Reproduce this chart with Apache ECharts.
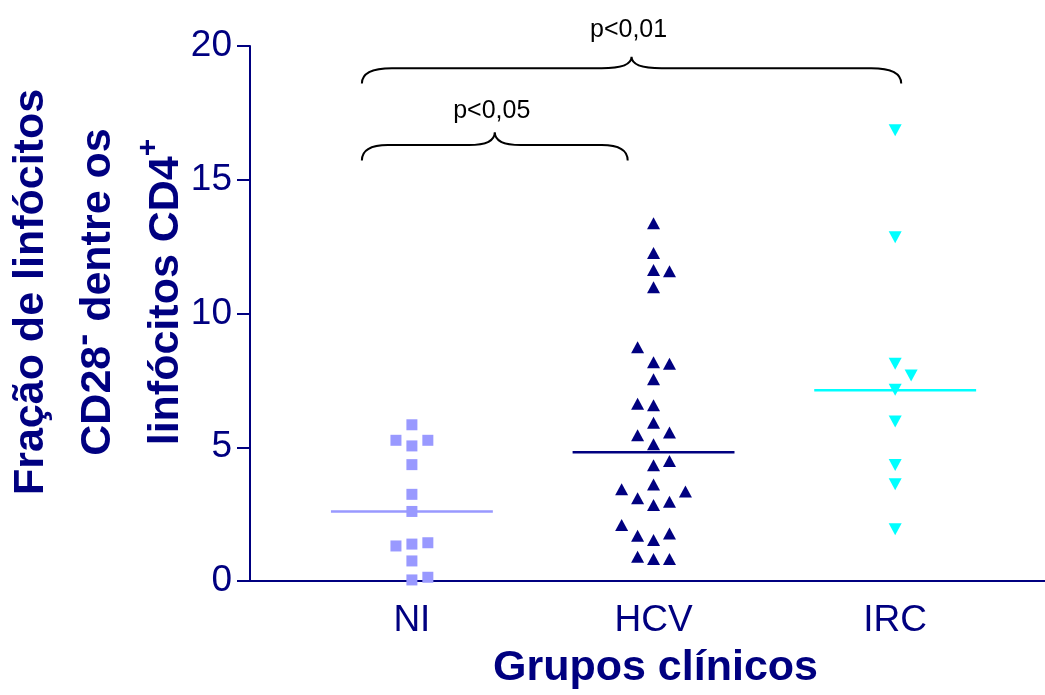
<!DOCTYPE html>
<html>
<head>
<meta charset="utf-8">
<script src="https://cdn.jsdelivr.net/npm/echarts@6/dist/echarts.min.js"></script>
<style>
html,body{margin:0;padding:0;background:#fff;}
#chart{width:1045px;height:695px;}
</style>
</head>
<body>
<div id="chart"></div>
<script>
// ---- data ----
const categories = ['NI', 'HCV', 'IRC'];
const yTicks = [0, 5, 10, 15, 20];

const niValues  = [5.84, 5.26, 5.26, 5.05, 4.35, 3.24, 2.60, 1.31, 1.38, 1.43, 0.75, 0.04, 0.14];
const niColumn  = [0, -1, 1, 0, 0, 0, 0, -1, 0, 1, 0, 0, 1];

const hcvValues = [13.37, 12.26, 11.63, 11.58, 10.98, 8.74, 8.18, 8.12, 7.54, 6.63, 6.57, 5.92, 5.45, 5.55, 5.11,
                   4.33, 4.49, 3.61, 3.43, 3.09, 3.35, 2.84, 2.96, 2.09, 1.69, 1.53, 1.78, 0.91, 0.82, 0.82];
const hcvColumn = [0, 0, 0, 1, 0, -1, 0, 1, 0, -1, 0, 0, -1, 1, 0,
                   0, 1, 0, -2, -1, 2, 0, 1, -2, -1, 0, 1, -1, 0, 1];

const ircValues = [16.85, 12.85, 8.12, 7.68, 7.15, 5.96, 4.34, 3.62, 1.93];
const ircColumn = [0, 0, 0, 1, 0, 0, 0, 0, 0];

const groupMeans = [2.60, 4.81, 7.13];

const pLabels = ['p<0,01', 'p<0,05'];
const pPairs  = [[1, 3], [1, 2]];

// ---- layout / style ----
const NAVY = '#000080';
const FONT = '"Liberation Sans", Arial, sans-serif';
const colors = ['#9999FF', '#000080', '#00FFFF'];
const COL_STEP = 0.066;
const MEAN_HALF = 0.335;
const bracketLayout = [
  {from: 0.793, to: 3.025, tip: 18.6, bar: 19.17, peak: 19.6, text: 20.6, r: 30},
  {from: 0.793, to: 1.893, tip: 15.72, bar: 16.3, peak: 16.78, text: 17.55, r: 26}
];

function pts(vals, cols, c) {
  return vals.map((v, i) => [c + cols[i] * COL_STEP, v]);
}
function meanLine(c, m) {
  return [[c - MEAN_HALF, m], [c + MEAN_HALF, m]];
}

const chart = echarts.init(document.getElementById('chart'), null, {renderer: 'canvas'});

const series = [];
categories.forEach((cat, i) => {
  series.push({
    type: 'line', name: cat + ' média', data: meanLine(i + 1, groupMeans[i]),
    symbol: 'none', lineStyle: {color: colors[i], width: 2.5}, z: 2, silent: true
  });
});
series.push({
  type: 'scatter', name: 'NI', data: pts(niValues, niColumn, 1),
  symbol: 'rect', symbolSize: 11, itemStyle: {color: colors[0], opacity: 1}, z: 3
});
series.push({
  type: 'scatter', name: 'HCV', data: pts(hcvValues, hcvColumn, 2),
  symbol: 'triangle', symbolSize: [13, 12], itemStyle: {color: colors[1], opacity: 1}, z: 3
});
series.push({
  type: 'scatter', name: 'IRC', data: pts(ircValues, ircColumn, 3),
  symbol: 'triangle', symbolRotate: 180, symbolSize: [13, 12], itemStyle: {color: colors[2], opacity: 1}, z: 3
});
series.push({
  type: 'custom', name: 'brackets', clip: false, z: 5, silent: true,
  data: pPairs.map((p, i) => [p[0], bracketLayout[i].bar]),
  renderItem: function (params, api) {
    const i = params.dataIndex;
    const b = bracketLayout[i];
    const pL = api.coord([b.from, b.tip]);
    const pR = api.coord([b.to, b.tip]);
    const yH = api.coord([1, b.bar])[1];
    const yP = api.coord([1, b.peak])[1];
    const yT = api.coord([1, b.text])[1];
    const xm = (pL[0] + pR[0]) / 2;
    const r = b.r;
    const d = 'M' + pL[0] + ',' + pL[1] +
      ' Q' + pL[0] + ',' + yH + ' ' + (pL[0] + r) + ',' + yH +
      ' L' + (xm - r) + ',' + yH +
      ' Q' + xm + ',' + yH + ' ' + xm + ',' + yP +
      ' Q' + xm + ',' + yH + ' ' + (xm + r) + ',' + yH +
      ' L' + (pR[0] - r) + ',' + yH +
      ' Q' + pR[0] + ',' + yH + ' ' + pR[0] + ',' + pR[1];
    return {
      type: 'group',
      children: [
        {type: 'path', shape: {pathData: d}, style: {fill: null, stroke: '#000', lineWidth: 2}},
        {type: 'text', style: {text: pLabels[i], x: xm - 3, y: yT, align: 'center', verticalAlign: 'middle',
          fill: '#000', font: '25px ' + FONT}}
      ]
    };
  }
});

const titleRich = {
  b: {fontSize: 43, fontWeight: 'bold', fontFamily: FONT, fill: NAVY, lineHeight: 64},
  m: {fontSize: 36, fontWeight: 'bold', fontFamily: FONT, fill: NAVY, lineHeight: 34, verticalAlign: 'top'},
  p: {fontSize: 30, fontWeight: 'bold', fontFamily: FONT, fill: NAVY, lineHeight: 22, verticalAlign: 'top'}
};
const titleLines = ['{b|Fração de linfócitos}', '{b|CD28}{m|-}{b| dentre os}', '{b|linfócitos CD4}{p|+}'];
const titleX = [31, 98, 166];

const option = {
  backgroundColor: '#fff',
  animation: false,
  grid: {left: 250, right: 0, top: 46, bottom: 114, containLabel: false, outerBoundsMode: 'none'},
  xAxis: {
    type: 'value', min: 0.33, max: 3.62,
    splitLine: {show: false},
    axisTick: {show: false},
    axisLine: {show: true, lineStyle: {color: NAVY, width: 2}},
    axisLabel: {
      customValues: [1, 2, 3],
      formatter: v => categories[Math.round(v) - 1] || '',
      color: NAVY, fontSize: 37, fontFamily: FONT, margin: 21
    },
    name: 'Grupos clínicos', nameLocation: 'middle', nameGap: 66,
    nameTextStyle: {color: NAVY, fontSize: 43, fontWeight: 'bold', fontFamily: FONT, padding: [0, 0, 0, 16]}
  },
  yAxis: {
    type: 'value', min: yTicks[0], max: yTicks[yTicks.length - 1], interval: 5,
    splitLine: {show: false},
    axisLine: {show: true, lineStyle: {color: NAVY, width: 2}},
    axisTick: {show: true, length: 13, lineStyle: {color: NAVY, width: 2}},
    axisLabel: {color: NAVY, fontSize: 37, fontFamily: FONT, margin: 18}
  },
  graphic: titleLines.map((t, i) => ({
    type: 'text', x: titleX[i], y: 292, rotation: Math.PI / 2,
    style: {text: t, rich: titleRich, fill: NAVY, align: 'center', verticalAlign: 'middle'}
  })),
  series: series
};
chart.setOption(option);
</script>
</body>
</html>
